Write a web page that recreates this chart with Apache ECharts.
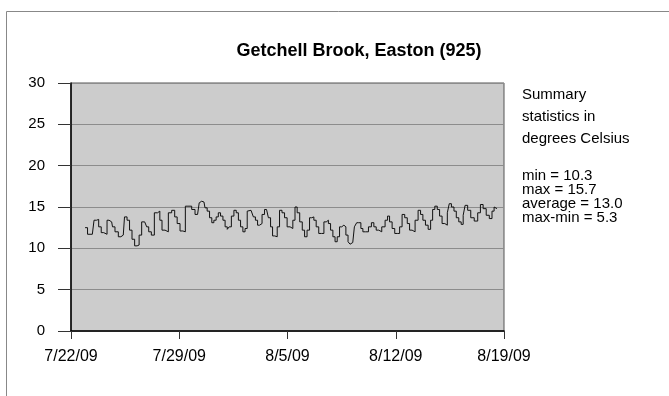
<!DOCTYPE html>
<html>
<head>
<meta charset="utf-8">
<script src="https://cdn.jsdelivr.net/npm/echarts@6/dist/echarts.min.js"></script>
<style>
  html, body { margin: 0; padding: 0; background: #fff; }
  #chart { width: 669px; height: 396px; }
</style>
</head>
<body>
<div id="chart"></div>
<script>
// x = days after 7/22/09, y = water temperature (deg C)
var days = [0.91, 1.23, 1.38, 1.60, 1.70, 1.88, 2.03, 2.20, 2.46, 2.63, 2.74, 2.95, 3.17, 3.28, 3.38, 3.54, 3.71, 3.86, 4.03, 4.20,
    4.35, 4.46, 4.68, 4.85, 4.94, 5.11, 5.28, 5.50, 5.69, 5.80, 5.97, 6.19, 6.40, 6.62, 6.79, 6.94, 7.16, 7.31, 7.48, 7.65,
    7.70, 7.91, 8.13, 8.24, 8.34, 8.45, 8.60, 8.73, 8.88, 9.04, 9.17, 9.31, 9.46, 9.59, 9.75, 9.90, 10.03, 10.18, 10.28, 10.46,
    10.61, 10.76, 10.89, 11.04, 11.19, 11.32, 11.47, 11.53, 11.75, 11.84, 12.01, 12.12, 12.27, 12.44, 12.59, 12.70, 12.83, 12.98, 13.09, 13.26,
    13.41, 13.56, 13.73, 13.89, 14.06, 14.27, 14.42, 14.55, 14.70, 14.88, 15.03, 15.18, 15.35, 15.50, 15.63, 15.78, 15.93, 16.11, 16.28, 16.43,
    16.58, 16.71, 16.86, 17.01, 17.14, 17.29, 17.44, 17.57, 17.72, 17.83, 18.00, 18.09, 18.22, 18.43, 18.52, 18.69, 18.80, 18.95, 19.13, 19.34,
    19.51, 19.66, 19.81, 19.99, 20.20, 20.42, 20.52, 20.68, 20.85, 21.02, 21.17, 21.33, 21.49, 21.67, 21.82, 21.97, 22.14, 22.36, 22.53, 22.68,
    22.83, 23.01, 23.18, 23.33, 23.44, 23.61, 23.76, 23.91, 24.08, 24.26, 24.41, 24.51, 24.69, 24.84, 24.99, 25.16, 25.30, 25.42, 25.55, 25.75,
    25.95, 26.20, 26.40, 26.55, 26.75, 26.95, 27.15, 27.30, 27.42, 27.55];
var temps = [12.5, 11.7, 11.7, 13.4, 13.5, 12.6, 11.9, 11.7, 13.4, 13.2, 12.6, 12.0, 11.4, 11.4, 11.6, 13.8, 13.4, 12.2, 11.1, 10.3,
    10.4, 11.6, 13.2, 13.4, 12.6, 12.0, 11.6, 14.3, 14.5, 13.4, 12.2, 12.0, 14.3, 14.6, 13.8, 13.0, 12.1, 12.0, 15.1, 15.3,
    15.1, 14.7, 14.1, 13.9, 15.5, 15.7, 15.6, 14.9, 14.5, 13.7, 13.1, 13.4, 13.8, 14.3, 13.9, 13.4, 12.6, 12.3, 12.6, 13.9,
    14.6, 14.3, 13.4, 12.6, 12.0, 12.4, 14.5, 14.6, 14.5, 13.8, 13.4, 12.8, 13.0, 14.1, 14.7, 14.5, 13.7, 12.6, 11.5, 11.4,
    12.6, 14.6, 14.3, 13.7, 12.6, 12.4, 13.4, 15.0, 14.3, 13.2, 12.2, 11.4, 12.2, 13.7, 13.8, 13.4, 12.6, 11.8, 11.8, 13.2,
    13.4, 13.0, 12.2, 11.4, 10.8, 11.4, 12.6, 12.8, 12.6, 11.6, 10.8, 10.5, 10.7, 12.6, 13.1, 13.1, 12.4, 12.0, 12.0, 12.6,
    13.1, 12.6, 12.2, 12.0, 12.6, 13.4, 13.9, 13.2, 12.4, 11.8, 11.8, 12.6, 14.1, 13.7, 13.0, 12.2, 12.0, 13.4, 14.6, 14.1,
    13.4, 12.8, 12.3, 13.4, 14.7, 15.1, 14.7, 13.9, 13.0, 12.8, 14.3, 15.4, 15.0, 14.5, 13.7, 13.2, 12.9, 14.0, 15.2, 14.6,
    13.7, 13.3, 14.3, 15.3, 14.8, 14.0, 13.6, 14.5, 15.0, 14.8];
var xTickLabels = ['7/22/09', '7/29/09', '8/5/09', '8/12/09', '8/19/09'];
var titleText = 'Getchell Brook, Easton (925)';
var noteHead = ['Summary', 'statistics in', 'degrees Celsius'];
var noteStats = ['min = 10.3', 'max = 15.7', 'average = 13.0', 'max-min = 5.3'];

var lineData = days.map(function (d, i) { return [d, temps[i]]; });
var fontName = '"Liberation Sans", Arial, sans-serif';

var chart = echarts.init(document.getElementById('chart'), null, { renderer: 'canvas' });
var option = {
    animation: false,
    backgroundColor: '#fff',
    title: {
        text: titleText,
        left: 354, top: 37, textAlign: 'center',
        textStyle: { fontFamily: fontName, fontSize: 18, fontWeight: 'bold', color: '#000' }
    },
    grid: {
        left: 71, right: 165, top: 83, bottom: 65,
        show: true, backgroundColor: '#cccccc', borderColor: '#555', borderWidth: 1
    },
    xAxis: {
        type: 'value', min: 0, max: 28, interval: 7,
        axisLine: { lineStyle: { color: '#000', width: 1.5 } },
        axisTick: { show: true, length: 8, lineStyle: { color: '#333' } },
        axisLabel: {
            margin: 18, color: '#000', fontFamily: fontName, fontSize: 16,
            formatter: function (v) { return xTickLabels[Math.round(v / 7)] || ''; }
        },
        splitLine: { show: false }
    },
    yAxis: {
        type: 'value', min: 0, max: 30, interval: 5,
        axisLine: { show: true, lineStyle: { color: '#000', width: 1.5 } },
        axisTick: { show: true, length: 13, lineStyle: { color: '#333' } },
        axisLabel: { margin: 26, color: '#000', fontFamily: fontName, fontSize: 15 },
        splitLine: { show: true, lineStyle: { color: '#8c8c8c', width: 1 } }
    },
    series: [{
        type: 'line',
        data: lineData,
        step: 'middle',
        showSymbol: false,
        lineStyle: { color: '#111', width: 1 }
    }],
    graphic: [
        { type: 'rect', left: 4, top: 9, shape: { width: 720, height: 420 }, style: { fill: 'none', stroke: '#888', lineWidth: 1 }, silent: true },
        { type: 'text', left: 522, top: 84, style: { text: noteHead.join('\n'), fontFamily: fontName, fontSize: 15, lineHeight: 22, fill: '#000' } },
        { type: 'text', left: 522, top: 168, style: { text: noteStats.join('\n'), fontFamily: fontName, fontSize: 15, lineHeight: 14, fill: '#000' } }
    ]
};
chart.setOption(option);
</script>
</body>
</html>
